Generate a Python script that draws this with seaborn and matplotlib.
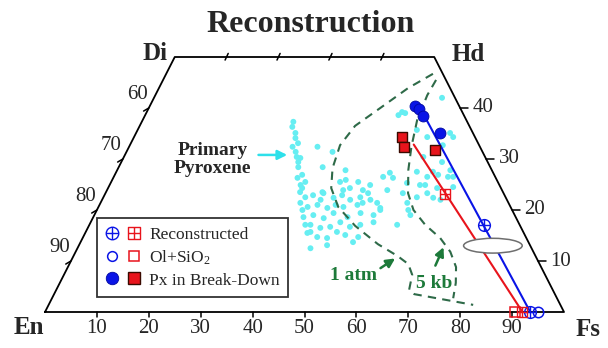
import numpy as np
import pandas as pd
import matplotlib
matplotlib.use("Agg")
import matplotlib.pyplot as plt
import seaborn as sns
from matplotlib.path import Path
from matplotlib.patches import Ellipse
from matplotlib.lines import Line2D
from matplotlib.legend_handler import HandlerTuple

sns.set_theme(style="white")
plt.rcParams['font.family'] = ['Liberation Serif', 'DejaVu Serif']
plt.rcParams['mathtext.fontset'] = 'custom'
plt.rcParams['mathtext.rm'] = 'Liberation Serif'
plt.rcParams['mathtext.it'] = 'Liberation Serif:italic'

# ---------------- data (Fs %, Wo %) ----------------
prim_fs = [29.5, 30.7, 31.2, 32.2, 32.6, 34.1, 34.1, 34.6, 36.1, 37.4, 37.4, 38.9, 38.5, 39.6, 40.5,
           31.5, 35.5, 37.4, 36.3, 39.7, 39.3, 44.0, 45.0, 47.6, 45.5, 46.6, 49.3, 50.2, 54.0, 41.7,
           40.2, 42.0, 44.4, 45.8, 47.8, 49.5, 50.6, 53.3, 40.3, 42.0, 44.2, 47.2, 49.7, 54.6, 42.2,
           44.5, 45.9, 49.0, 51.1, 53.8, 42.6, 44.8, 46.6, 50.4, 52.2, 54.5, 45.1, 47.1, 48.4, 52.5,
           44.9, 53.0, 50.5, 43.3, 48.1, 48.8, 49.9, 55.5, 53.8, 56.5, 60.5, 61.5, 60.3, 61.8, 57.7,
           57.9, 60.4, 61.0, 64.2, 65.4, 52.8, 53.9, 51.9, 57.1, 59.8, 62.0, 63.6, 60.4, 57.3, 60.0,
           60.9, 59.3, 54.4, 59.1, 60.8, 63.4, 65.2, 66.4, 64.4, 62.3, 49.2, 29.2, 33.3, 36.8, 41.6,
           42.8, 44.1, 45.5, 51.7, 42.1, 50.3, 47.8]
prim_wo = [36.3, 35.1, 34.1, 33.1, 31.4, 30.2, 29.4, 28.4, 26.9, 25.5, 24.3, 22.5, 21.4, 20.0, 18.6,
           32.4, 26.3, 23.5, 32.4, 31.4, 28.4, 27.8, 25.9, 25.5, 23.9, 24.3, 23.9, 24.9, 23.9, 23.5,
           22.9, 23.3, 22.4, 22.9, 22.0, 22.5, 23.3, 21.4, 20.6, 21.0, 20.4, 20.6, 21.0, 20.0, 19.0,
           18.4, 19.4, 18.6, 19.4, 19.0, 17.1, 16.5, 16.7, 16.7, 17.1, 17.6, 14.7, 14.5, 15.7, 13.7,
           12.5, 14.7, 21.4, 15.7, 17.6, 38.6, 39.0, 42.0, 35.7, 34.3, 35.1, 34.3, 32.7, 29.4, 30.4,
           27.5, 26.5, 27.5, 27.8, 26.5, 27.3, 26.3, 26.5, 25.3, 24.9, 23.3, 22.4, 22.5, 23.3, 20.0,
           19.0, 17.1, 20.4, 21.4, 24.9, 24.3, 22.0, 24.5, 26.5, 26.9, 39.2, 37.3, 30.4, 24.9, 17.1,
           15.5, 25.5, 21.0, 22.0, 22.0, 15.1, 13.1]

px_blue_fs = [51.1, 52.2, 53.7, 58.6]
px_blue_wo = [40.4, 39.8, 38.4, 35.1]
px_red_fs = [51.6, 53.0, 59.3]
px_red_wo = [34.3, 32.4, 31.8]

rec_blue_fs = [76.0, 93.5]
rec_blue_wo = [17.1, 0.0]
rec_red_fs = [65.6, 92.0]
rec_red_wo = [23.1, 0.0]

ol_blue_fs = [95.0]
ol_blue_wo = [0.0]
ol_red_fs = [90.6]
ol_red_wo = [0.0]

atm1_fs = [51.4, 48.0, 44.6, 41.5, 40.5, 41.3, 43.0, 46.2, 51.3, 57.5, 62.4, 65.3, 67.1, 68.0, 69.4, 81.8]
atm1_wo = [46.7, 43.9, 40.0, 36.5, 32.7, 28.2, 24.3, 20.6, 16.9, 13.3, 11.0, 9.4, 7.3, 4.3, 3.5, 1.4]
kb5_fs = [52.6, 52.4, 52.9, 54.4, 56.1, 58.3, 61.0, 64.7, 68.9, 72.2, 74.8, 76.3, 77.3]
kb5_wo = [45.5, 42.5, 37.6, 32.4, 27.8, 23.3, 20.0, 17.1, 14.5, 11.8, 8.8, 5.7, 2.7]

quad_fs = [0, 100, 50, 0, 0]
quad_wo = [0, 0, 50, 50, 0]
bottom_ticks = [10, 20, 30, 40, 50, 60, 70, 80, 90]
wo_ticks = [10, 20, 30, 40]
top_ticks = [10, 20, 30, 40]


def proj(fs, wo):
    fs = np.asarray(fs, float)
    wo = np.asarray(wo, float)
    return fs + wo / 2.0, wo


# ---------------- figure ----------------
fig = plt.figure(figsize=(6.08, 3.48), dpi=100)
ax = fig.add_axes([45 / 608, 36 / 348, 519 / 608, 255 / 348])
ax.set_xlim(0, 100)
ax.set_ylim(0, 50)
ax.axis('off')

BLUE = '#0a14e6'
RED = '#e8141c'
GREEN_LINE = '#2e6a48'
GREEN_TXT = '#1d7a3a'
CYAN = '#66eef2'

qx, qy = proj(quad_fs, quad_wo)
ax.plot(qx, qy, color='black', lw=1.3, clip_on=False, zorder=3)

# ticks and labels
for v in bottom_ticks:
    ax.plot([v, v], [0, -0.9], color='black', lw=1.1, clip_on=False)
    ax.text(v, -1.4, str(v), ha='center', va='top', fontsize=15)
for w in wo_ticks:
    xr, _ = proj(100 - w, w)
    ax.plot([xr, xr + 1.5], [w, w], color='black', lw=1.1, clip_on=False)
    ax.text(xr + 2.4, w, str(w), ha='left', va='center', fontsize=15)
    xl, _ = proj(0, w)
    ax.plot([xl - 1.0, xl], [w - 0.6, w], color='black', lw=1.1, clip_on=False)
    ax.text(xl - 0.2, w + 0.7, str(100 - w), ha='right', va='bottom', fontsize=15)
for f in top_ticks:
    xt, _ = proj(f, 50)
    ax.plot([xt - 0.3, xt + 0.3], [49.4, 50.7], color='black', lw=1.1, clip_on=False)

# corner labels
ax.text(-3.1, -3.1, 'En', ha='center', va='center', fontsize=18, fontweight='bold', clip_on=False)
ax.text(104.6, -3.4, 'Fs', ha='center', va='center', fontsize=18, fontweight='bold', clip_on=False)
ax.text(21.2, 50.6, 'Di', ha='center', va='center', fontsize=18, fontweight='bold', clip_on=False)
ax.text(81.5, 50.4, 'Hd', ha='center', va='center', fontsize=18, fontweight='bold', clip_on=False)

# primary pyroxene cloud
px_, py_ = proj(prim_fs, prim_wo)
df_prim = pd.DataFrame({'x': px_, 'y': py_})
sns.scatterplot(data=df_prim, x='x', y='y', ax=ax, color=CYAN, s=18, edgecolor='none',
                legend=False, zorder=2)

# dashed phase boundaries
for cfs, cwo in [(atm1_fs, atm1_wo), (kb5_fs, kb5_wo)]:
    cx, cy = proj(cfs, cwo)
    ax.plot(cx, cy, color=GREEN_LINE, lw=1.5, dashes=(4, 3), zorder=3)

# tie lines from mean of break-down Px to bulk end
bx, by = proj(px_blue_fs, px_blue_wo)
rx, ry = proj(px_red_fs, px_red_wo)
rbx, rby = proj(rec_blue_fs, rec_blue_wo)
rrx, rry = proj(rec_red_fs, rec_red_wo)
ax.plot([bx.mean(), rbx[-1]], [by.mean(), rby[-1]], color=BLUE, lw=1.5, zorder=4)
ax.plot([rx.mean(), rrx[-1]], [ry.mean(), rry[-1]], color=RED, lw=1.5, zorder=4)

# ellipse
ec_x, ec_y = proj(79.8, 13.0)
ax.add_patch(Ellipse((float(ec_x), float(ec_y)), 11.3, 2.9, facecolor='white',
                     edgecolor='#6e6e6e', lw=1.1, zorder=5))

# markers
circ_cross = Path.make_compound_path(Path.unit_circle(),
                                     Path([(-1, 0), (1, 0)]), Path([(0, -1), (0, 1)]))
sq_plus = Path.make_compound_path(Path([(-1, -1), (1, -1), (1, 1), (-1, 1), (-1, -1)]),
                                  Path([(-1, 0), (1, 0)]), Path([(0, -1), (0, 1)]))

ax.plot(rbx, rby, ls='none', marker=circ_cross, ms=8.5, mfc='none', mec=BLUE, mew=1.0, zorder=6, clip_on=False)
ax.plot(rrx, rry, ls='none', marker=sq_plus, ms=7.5, mfc='none', mec=RED, mew=1.0, zorder=6, clip_on=False)
ox, oy = proj(ol_blue_fs, ol_blue_wo)
ax.plot(ox, oy, ls='none', marker='o', ms=7.5, mfc='none', mec=BLUE, mew=1.1, zorder=6, clip_on=False)
ox, oy = proj(ol_red_fs, ol_red_wo)
ax.plot(ox, oy, ls='none', marker='s', ms=7, mfc='none', mec=RED, mew=1.1, zorder=6, clip_on=False)

df_b = pd.DataFrame({'x': bx, 'y': by})
df_r = pd.DataFrame({'x': rx, 'y': ry})
sns.scatterplot(data=df_b, x='x', y='y', ax=ax, color=BLUE, marker='o', s=62,
                edgecolor='#0008a0', linewidth=0.6, legend=False, zorder=7)
sns.scatterplot(data=df_r, x='x', y='y', ax=ax, color=RED, marker='s', s=58,
                edgecolor='#3a0a00', linewidth=1.0, legend=False, zorder=7)
ax.set_xlabel('')
ax.set_ylabel('')
ax.set_xlim(0, 100)
ax.set_ylim(0, 50)

# annotations
ax.text(32.3, 29.9, 'Primary\nPyroxene', ha='center', va='center', fontsize=14,
        fontweight='bold', linespacing=1.15)
ax.annotate('', xy=(47.2, 30.8), xytext=(40.6, 30.8),
            arrowprops=dict(arrowstyle='-|>', color='#2ee0ea', lw=1.8, mutation_scale=14))
ax.text(59.4, 7.2, '1 atm', ha='center', va='center', fontsize=14, fontweight='bold', color=GREEN_TXT)
ax.annotate('', xy=(67.9, 10.8), xytext=(64.2, 8.3),
            arrowprops=dict(arrowstyle='-|>', color=GREEN_TXT, lw=1.8, mutation_scale=13))
ax.text(74.9, 5.5, '5 kb', ha='center', va='center', fontsize=14, fontweight='bold', color=GREEN_TXT)
ax.annotate('', xy=(77.0, 13.2), xytext=(75.0, 8.6),
            arrowprops=dict(arrowstyle='-|>', color=GREEN_TXT, lw=1.8, mutation_scale=13))

# legend
h_rec = (Line2D([], [], ls='none', marker=circ_cross, ms=9, mfc='none', mec=BLUE, mew=1.0),
         Line2D([], [], ls='none', marker=sq_plus, ms=8, mfc='none', mec=RED, mew=1.0))
h_ol = (Line2D([], [], ls='none', marker='o', ms=7, mfc='none', mec=BLUE, mew=1.1),
        Line2D([], [], ls='none', marker='s', ms=7, mfc='none', mec=RED, mew=1.1))
h_px = (Line2D([], [], ls='none', marker='o', ms=9, mfc=BLUE, mec='#0008a0', mew=0.6),
        Line2D([], [], ls='none', marker='s', ms=8.5, mfc=RED, mec='#3a0a00', mew=1.0))
leg = ax.legend([h_rec, h_ol, h_px], ['Reconstructed', 'Ol+SiO$_2$', 'Px in Break-Down'],
                handler_map={tuple: HandlerTuple(ndivide=None, pad=0.5)},
                loc='lower left', bbox_to_anchor=(0.10, 0.058), borderaxespad=0,
                fontsize=12.5, handlelength=2.0, handletextpad=0.5, borderpad=0.5,
                labelspacing=0.32, frameon=True, fancybox=False, edgecolor='#333333',
                framealpha=1)
leg.get_frame().set_linewidth(1.3)
leg.set_zorder(8)

fig.text(0.51, 0.93, 'Reconstruction', ha='center', va='center', fontsize=23, fontweight='bold')

fig.savefig('out.png', dpi=100, facecolor='white')
